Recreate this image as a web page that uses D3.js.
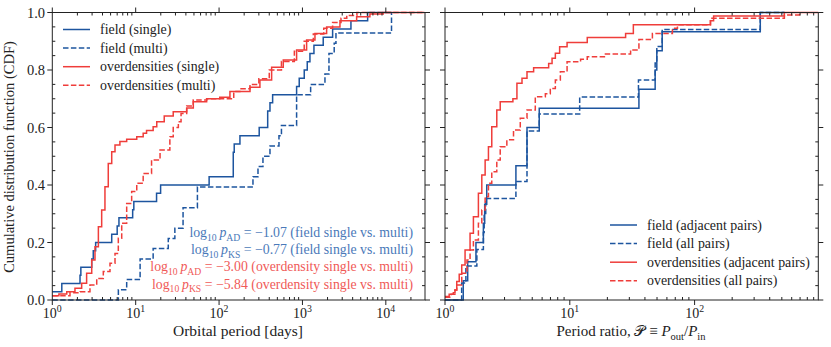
<!DOCTYPE html>
<html>
<head>
<meta charset="utf-8">
<script src="https://cdn.jsdelivr.net/npm/d3@7"></script>
<style>
body { margin: 0; background: #fff; }
text { font-family: "Liberation Serif", "DejaVu Serif", serif; fill: #222; }
</style>
</head>
<body>
<div id="chart"></div>
<script>

// left panel: orbital period [days] vs CDF, as [value, cdf after step]
let fieldSingle = [[1.0, 0.029], [1.30, 0.057], [2.15, 0.086], [2.2, 0.114], [2.97, 0.143], [3.1, 0.171], [3.31, 0.2],
    [5.16, 0.229], [6.0, 0.257], [6.3, 0.286], [9.2, 0.314], [9.5, 0.343], [17.8, 0.371], [19.9, 0.4], [76, 0.429],
    [148, 0.514], [152, 0.543], [178, 0.571], [303, 0.6], [383, 0.657], [408, 0.686], [439, 0.714], [851, 0.743],
    [915, 0.771], [1051, 0.8], [1142, 0.829], [1230, 0.857], [1374, 0.886], [1775, 0.914], [2301, 0.943],
    [3816, 0.971], [6052, 1.0], [11700, 1.0]];

let fieldMulti = [[1.0, 0], [6.2, 0.036], [7.8, 0.071], [11.3, 0.143], [16.2, 0.179], [24.6, 0.214], [29.5, 0.25],
    [37, 0.321], [55, 0.393], [255, 0.429], [293, 0.464], [336, 0.5], [408, 0.536], [523, 0.571], [560, 0.607],
    [851, 0.714], [1254, 0.75], [1862, 0.786], [2080, 0.857], [2404, 0.893], [2523, 0.929], [11700, 1.0]];

let overSingle = [[1.0, 0.015], [1.2, 0.021], [1.49, 0.029], [1.87, 0.041], [2.25, 0.058], [2.58, 0.093], [2.97, 0.139],
    [3.25, 0.185], [3.57, 0.255], [3.91, 0.313], [4.28, 0.394], [4.69, 0.475], [5.16, 0.516], [5.65, 0.539],
    [6.47, 0.551], [7.8, 0.559], [10.3, 0.568], [12.3, 0.58], [13.5, 0.59], [16.2, 0.603], [17.9, 0.62], [22, 0.64],
    [28.2, 0.655], [40.9, 0.668], [49.1, 0.69], [71, 0.70], [102, 0.705], [135, 0.725], [235, 0.74], [309, 0.765],
    [427, 0.81], [589, 0.835], [851, 0.87], [1122, 0.904], [1413, 0.927], [1950, 0.95], [2818, 0.971],
    [4467, 0.985], [6442, 0.995], [9311, 1.0], [29000, 1.0]];

let overMulti = [[1.0, 0.015], [1.63, 0.025], [2.15, 0.029], [2.83, 0.052], [3.41, 0.075], [4.09, 0.099], [4.92, 0.128],
    [5.65, 0.162], [6.19, 0.215], [6.8, 0.267], [7.8, 0.336], [8.95, 0.377], [10.3, 0.406], [12.3, 0.44],
    [15.5, 0.487], [19.6, 0.522], [25.7, 0.568], [28.2, 0.6], [32.5, 0.62], [35, 0.649], [40.9, 0.675],
    [49, 0.696], [71, 0.70], [150, 0.725], [178, 0.735], [235, 0.75], [300, 0.77], [400, 0.80], [560, 0.83],
    [800, 0.865], [1050, 0.90], [1350, 0.925], [1800, 0.945], [2300, 0.965], [2900, 0.98], [3400, 0.99],
    [4500, 1.0], [29000, 1.0]];

// right panel: period ratio vs CDF
let fieldAdjacent = [[1.0, 0], [1.40, 0.067], [1.52, 0.133], [1.77, 0.2], [2.03, 0.267], [2.08, 0.333], [2.16, 0.4],
    [3.70, 0.467], [4.54, 0.6], [5.69, 0.667], [35.8, 0.733], [48.3, 0.8], [49.8, 0.867], [55, 0.933],
    [336, 1.0], [524, 1.0]];

let fieldAll = [[1.0, 0], [1.36, 0.059], [1.47, 0.118], [1.80, 0.176], [2.03, 0.235], [2.06, 0.294], [2.12, 0.353],
    [3.70, 0.412], [4.54, 0.588], [5.69, 0.647], [12.0, 0.706], [35.5, 0.765], [48.3, 0.824], [49.8, 0.882],
    [55, 0.941], [336, 1.0], [524, 1.0]];

let overAdjacent = [[1.0, 0.012], [1.08, 0.02], [1.166, 0.025], [1.203, 0.035], [1.242, 0.064], [1.30, 0.09],
    [1.362, 0.122], [1.448, 0.174], [1.588, 0.232], [1.689, 0.29], [1.852, 0.371], [1.972, 0.435], [2.097, 0.487],
    [2.229, 0.533], [2.37, 0.603], [2.60, 0.661], [2.77, 0.69], [3.50, 0.70], [3.77, 0.754], [4.14, 0.771],
    [4.54, 0.794], [5.13, 0.808], [6.77, 0.823], [7.21, 0.841], [7.66, 0.858], [8.29, 0.881], [9.51, 0.896],
    [13.8, 0.913], [28, 0.927], [32.3, 0.957], [134, 0.971], [142, 0.988], [524, 1.0], [980, 1.0]];

let overAll = [[1.0, 0.01], [1.12, 0.02], [1.20, 0.035], [1.242, 0.052], [1.362, 0.093], [1.50, 0.139], [1.588, 0.174],
    [1.689, 0.209], [1.852, 0.267], [1.972, 0.313], [2.097, 0.359], [2.229, 0.406], [2.37, 0.446], [2.60, 0.487],
    [2.77, 0.533], [3.13, 0.557], [3.54, 0.591], [4.01, 0.632], [4.54, 0.661], [5.29, 0.707], [6.37, 0.717],
    [6.98, 0.736], [7.66, 0.765], [8.40, 0.794], [9.51, 0.829], [12.2, 0.837], [13.8, 0.846], [19.3, 0.856],
    [30.7, 0.87], [35.8, 0.906], [45.9, 0.927], [66.4, 0.945], [72.9, 0.957], [134, 0.98], [524, 0.991],
    [692, 1.0]];

let leftLabels = ["field (single)", "field (multi)", "overdensities (single)", "overdensities (multi)"];
let rightLabels = ["field (adjacent pairs)", "field (all pairs)", "overdensities (adjacent pairs)", "overdensities (all pairs)"];
let yTicks = [0, 0.2, 0.4, 0.6, 0.8, 1.0];

let pValues = [
    { name: "AD", value: "\u22121.07", what: "field single vs. multi", color: "#4a79b9" },
    { name: "KS", value: "\u22120.77", what: "field single vs. multi", color: "#4a79b9" },
    { name: "AD", value: "\u22123.00", what: "overdensity single vs. multi", color: "#f05a58" },
    { name: "KS", value: "\u22125.84", what: "overdensity single vs. multi", color: "#f05a58" }
];

const BLUE = "#1d559f", RED = "#ef3d3a";
const DASH = "5.5,2.4";

let width = 831, height = 347;
let plotTop = 12.5, plotBottom = 300;

let svg = d3.select("#chart").append("svg")
    .attr("width", width)
    .attr("height", height);

let y = d3.scaleLinear().domain([0, 1]).range([plotBottom, plotTop]);

let panels = [
    { left: 52.3, right: 425, domain: [1, 2.95e4],
      series: [[fieldSingle, BLUE, false], [fieldMulti, BLUE, true], [overSingle, RED, false], [overMulti, RED, true]] },
    { left: 445, right: 818.3, domain: [1, 980],
      series: [[fieldAdjacent, BLUE, false], [fieldAll, BLUE, true], [overAdjacent, RED, false], [overAll, RED, true]] }
];

// rich text helper: parts are {t, sub, sup, it}
function richText(sel, parts, size) {
    let shift = 0;
    parts.forEach(function (p) {
        let target = p.sub ? 3.5 : (p.sup ? -6 : 0);
        let ts = sel.append("tspan")
            .attr("dy", target - shift)
            .text(p.t);
        if (p.sub || p.sup) ts.attr("font-size", size * 0.7);
        if (p.it) ts.attr("font-style", "italic");
        shift = target;
    });
}

panels.forEach(function (pn, i) {
    let x = d3.scaleLog().domain(pn.domain).range([pn.left, pn.right]);
    let g = svg.append("g");

    let line = d3.line()
        .x(d => x(d[0]))
        .y(d => y(d[1]))
        .curve(d3.curveStepAfter);

    // series
    pn.series.forEach(function (s) {
        g.append("path")
            .attr("d", line(s[0]))
            .attr("fill", "none")
            .attr("stroke", s[1])
            .attr("stroke-width", 1.5)
            .attr("stroke-dasharray", s[2] ? DASH : null);
    });

    // frame
    g.append("rect")
        .attr("x", pn.left).attr("y", plotTop)
        .attr("width", pn.right - pn.left).attr("height", plotBottom - plotTop)
        .attr("fill", "none").attr("stroke", "#222").attr("stroke-width", 1);

    // x ticks
    let lo = Math.log10(pn.domain[0]), hi = Math.log10(pn.domain[1]);
    let majors = d3.range(Math.ceil(lo), Math.floor(hi) + 1).map(e => Math.pow(10, e));
    let minors = [];
    d3.range(Math.floor(lo), Math.ceil(hi) + 1).forEach(function (e) {
        for (let k = 2; k <= 9; k++) {
            let v = k * Math.pow(10, e);
            if (v > pn.domain[0] && v < pn.domain[1]) minors.push(v);
        }
    });

    minors.forEach(function (v) {
        g.append("line").attr("x1", x(v)).attr("x2", x(v)).attr("y1", plotBottom).attr("y2", plotBottom - 3)
            .attr("stroke", "#222");
        g.append("line").attr("x1", x(v)).attr("x2", x(v)).attr("y1", plotTop).attr("y2", plotTop + 3)
            .attr("stroke", "#222");
    });
    majors.forEach(function (v) {
        g.append("line").attr("x1", x(v)).attr("x2", x(v)).attr("y1", plotBottom).attr("y2", plotBottom + 5)
            .attr("stroke", "#222");
        g.append("line").attr("x1", x(v)).attr("x2", x(v)).attr("y1", plotTop).attr("y2", plotTop - 5)
            .attr("stroke", "#222");
        let t = g.append("text")
            .attr("x", x(v)).attr("y", 318)
            .attr("text-anchor", "middle")
            .style("font-size", "14px");
        richText(t, [{ t: "10" }, { t: String(Math.round(Math.log10(v))), sup: true }], 14);
    });

    // y ticks
    d3.range(0, 21).forEach(function (k) {
        let v = k * 0.05;
        let major = k % 4 === 0;
        let yy = y(v);
        if (major) {
            g.append("line").attr("x1", pn.left - 5).attr("x2", pn.left).attr("y1", yy).attr("y2", yy).attr("stroke", "#222");
            g.append("line").attr("x1", pn.right).attr("x2", pn.right + 5).attr("y1", yy).attr("y2", yy).attr("stroke", "#222");
        } else {
            g.append("line").attr("x1", pn.left).attr("x2", pn.left + 3).attr("y1", yy).attr("y2", yy).attr("stroke", "#222");
            g.append("line").attr("x1", pn.right - 3).attr("x2", pn.right).attr("y1", yy).attr("y2", yy).attr("stroke", "#222");
        }
    });

    if (i === 0) {
        yTicks.forEach(function (v) {
            g.append("text")
                .attr("x", 45).attr("y", y(v) + 5)
                .attr("text-anchor", "end")
                .style("font-size", "14.5px")
                .text(v.toFixed(1));
        });
    }
});

// axis titles
svg.append("text")
    .attr("x", 238).attr("y", 336)
    .attr("text-anchor", "middle")
    .style("font-size", "15.5px")
    .text("Orbital period [days]");

let rt = svg.append("text")
    .attr("x", 631).attr("y", 336)
    .attr("text-anchor", "middle")
    .style("font-size", "15px");
richText(rt, [{ t: "Period ratio, " }, { t: "\ud835\udcab" }, { t: " \u2261 " }, { t: "P", it: true }, { t: "out", sub: true },
    { t: "/" }, { t: "P", it: true }, { t: "in", sub: true }], 15);

svg.append("text")
    .attr("transform", "translate(14, 157) rotate(-90)")
    .attr("text-anchor", "middle")
    .style("font-size", "14.5px")
    .text("Cumulative distribution function (CDF)");

// legends
function legend(x0, y0, x1, labels) {
    let styles = [[BLUE, false], [BLUE, true], [RED, false], [RED, true]];
    labels.forEach(function (lab, k) {
        let yy = y0 + k * 18.6;
        svg.append("line")
            .attr("x1", x0).attr("x2", x0 + 27).attr("y1", yy).attr("y2", yy)
            .attr("stroke", styles[k][0]).attr("stroke-width", 1.5)
            .attr("stroke-dasharray", styles[k][1] ? DASH : null);
        svg.append("text")
            .attr("x", x1).attr("y", yy + 4.5)
            .style("font-size", "13.9px")
            .text(lab);
    });
}
legend(63, 29.5, 100, leftLabels);
legend(610, 225, 647, rightLabels);

// test statistics
pValues.forEach(function (d, k) {
    let t = svg.append("text")
        .attr("x", 413).attr("y", 237 + k * 17.2)
        .attr("text-anchor", "end")
        .style("font-size", "13.8px");
    richText(t, [{ t: "log" }, { t: "10", sub: true }, { t: "\u2009" }, { t: "p", it: true }, { t: d.name, sub: true },
        { t: " = " + d.value + " (" + d.what + ")" }], 13.8);
    t.selectAll("tspan").style("fill", d.color);
});
</script>
</body>
</html>
